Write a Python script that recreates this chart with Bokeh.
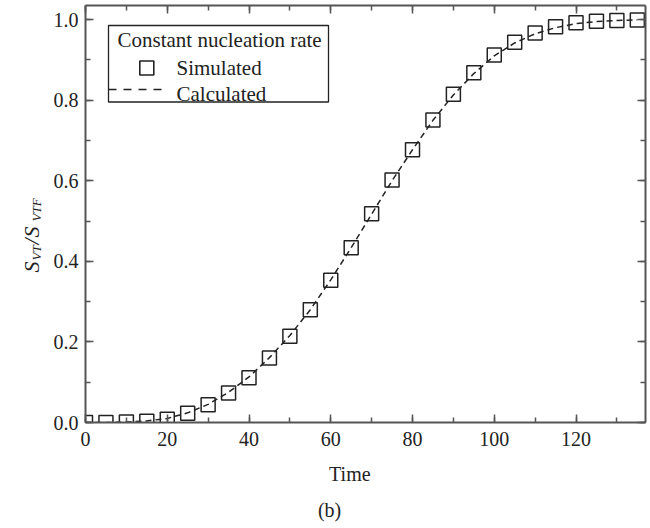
import math
from bokeh.plotting import figure
from bokeh.layouts import row, column
from bokeh.models import (Range1d, LinearAxis, SingleIntervalTicker, Label,
                          BoxAnnotation, Arrow, CustomJSTickFormatter)
from bokeh.core.properties import value
from bokeh.embed import file_html
from bokeh.resources import INLINE

# ---- data ----
time = [0, 5, 10, 15, 20, 25, 30, 35, 40, 45, 50, 55, 60, 65, 70,
        75, 80, 85, 90, 95, 100, 105, 110, 115, 120, 125, 130, 135]
simulated = [0.0, 0.0, 0.001, 0.003, 0.008, 0.023, 0.044, 0.073, 0.111,
             0.160, 0.214, 0.280, 0.353, 0.434, 0.518, 0.602, 0.677, 0.751,
             0.815, 0.868, 0.912, 0.944, 0.967, 0.982, 0.992, 0.996, 0.998, 0.999]
calculated = [0.0, 0.0, 0.001, 0.004, 0.010, 0.024, 0.045, 0.075, 0.113,
              0.161, 0.216, 0.280, 0.354, 0.434, 0.517, 0.600, 0.677, 0.750,
              0.813, 0.866, 0.910, 0.942, 0.965, 0.980, 0.990, 0.995, 0.998, 0.999]

legend_title = "Constant nucleation rate"
legend_labels = ["Simulated", "Calculated"]
x_label = "Time"
caption = "(b)"
y_label_parts = ["S", "VT", "/", "S", "VTF"]

FONT = "Liberation Serif"
INK = "#222222"
AX = "#555555"

# ---------------- main plot ----------------
p = figure(width=600, height=458, x_range=Range1d(0, 137), y_range=Range1d(0, 1.035),
           output_backend="svg", toolbar_location=None,
           min_border_left=35, min_border_right=5, min_border_top=5, min_border_bottom=36)
p.xgrid.visible = False
p.ygrid.visible = False
p.outline_line_color = None

xt = SingleIntervalTicker(interval=20, num_minor_ticks=2)
yt = SingleIntervalTicker(interval=0.2, num_minor_ticks=2)


def style_axis(ax, labels=True):
    ax.axis_line_color = AX
    ax.axis_line_width = 2
    ax.major_tick_line_color = AX
    ax.minor_tick_line_color = AX
    ax.major_tick_line_width = 1.5
    ax.minor_tick_line_width = 1.5
    ax.major_tick_in = 8
    ax.major_tick_out = 0
    ax.minor_tick_in = 5
    ax.minor_tick_out = 0
    ax.major_label_text_font = FONT
    if labels:
        ax.major_label_text_color = INK
        ax.major_label_text_font_size = "20px"
    else:
        ax.major_label_text_color = None
        ax.major_label_text_font_size = "0px"
        ax.major_label_standoff = 0


p.xaxis.ticker = xt
p.yaxis.ticker = yt
style_axis(p.xaxis[0])
style_axis(p.yaxis[0])
p.xaxis.major_label_standoff = 9
p.yaxis.major_label_standoff = 7
p.yaxis.formatter = CustomJSTickFormatter(code="return tick.toFixed(1);")

top = LinearAxis(ticker=xt)
right = LinearAxis(ticker=yt)
style_axis(top, labels=False)
style_axis(right, labels=False)
p.add_layout(top, "above")
p.add_layout(right, "right")

p.scatter(time, simulated, marker="square", size=14, line_color=INK,
          fill_alpha=0, line_width=1.5)
p.line(time, calculated, line_dash="6 4", line_color=INK, line_width=1.5)

# ---- legend (frame-relative screen units) ----
p.add_layout(BoxAnnotation(left=23, right=243, top=397, bottom=320.5,
                           left_units="screen", right_units="screen",
                           top_units="screen", bottom_units="screen",
                           fill_color="white", fill_alpha=1.0,
                           line_color=INK, line_alpha=1.0, line_width=1.3,
                           level="overlay"))
p.add_layout(BoxAnnotation(left=54.3, right=68.3, top=361.5, bottom=347.5,
                           left_units="screen", right_units="screen",
                           top_units="screen", bottom_units="screen",
                           fill_alpha=0, line_color=INK, line_alpha=1.0,
                           line_width=1.6, level="overlay"))
p.add_layout(Arrow(end=None, x_start=23, y_start=333, x_end=82, y_end=333,
                   start_units="screen", end_units="screen",
                   line_color=INK, line_width=1.5, line_dash="8 7", level="overlay"))


def lab(fig, text, x, y, size, style="normal", angle=0, align="left"):
    fig.add_layout(Label(x=x, y=y, x_units="screen", y_units="screen", text=text,
                         angle=angle, text_font=FONT, text_font_size=size,
                         text_font_style=style, text_color=INK, text_align=align,
                         text_baseline="alphabetic", level="overlay"))


lab(p, legend_title, 32, 383, "21px")
lab(p, legend_labels[0], 91, 355, "21px")
lab(p, legend_labels[1], 91, 329, "21px")

# ---------------- y label panel ----------------
yl = figure(width=50, height=528, x_range=Range1d(0, 50), y_range=Range1d(0, 528),
            x_axis_type=None, y_axis_type=None,
            output_backend="svg", toolbar_location=None, min_border=0)
yl.grid.visible = False
yl.outline_line_color = None
a = math.pi / 2
ys = [256, 268, 284, 291, 307]
xs = [31, 36, 31, 31, 36]
sizes = ["22px", "13px", "22px", "22px", "13px"]
yl.text(x=xs, y=ys, text=y_label_parts, angle=a, text_font=value(FONT),
        text_font_size=sizes, text_font_style="italic", text_color=INK,
        text_align="left", text_baseline="alphabetic")

# ---------------- bottom text panel ----------------
bt = figure(width=600, height=70, x_range=Range1d(0, 600), y_range=Range1d(0, 70),
            x_axis_type=None, y_axis_type=None,
            output_backend="svg", toolbar_location=None, min_border=0)
bt.grid.visible = False
bt.outline_line_color = None
bt.text(x=[261, 249], y=[55, 19], text=[x_label, caption], text_font=value(FONT),
        text_font_size="20px", text_color=INK, text_align="left",
        text_baseline="alphabetic")

layout = row(yl, column(p, bt))
open("out.html", "w").write(file_html(layout, INLINE))
